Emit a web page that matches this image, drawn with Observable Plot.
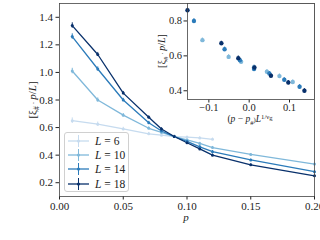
<!DOCTYPE html>
<html><head><meta charset="utf-8">
<script src="https://cdn.jsdelivr.net/npm/d3@7"></script>
<script src="https://cdn.jsdelivr.net/npm/@observablehq/plot@0.6"></script>
<style>
html,body{margin:0;padding:0;background:#fff;}
#wrap{position:relative;width:320px;height:240px;font-family:"Liberation Serif","DejaVu Serif",serif;}
#wrap svg{position:absolute;overflow:visible;}
#wrap svg, #wrap svg text, #wrap svg tspan{font-family:"Liberation Serif","DejaVu Serif",serif !important;}
#legend{position:absolute;left:64px;top:132px;width:63px;height:58px;border:1px solid #d0d0d0;border-radius:3px;background:rgba(255,255,255,0.85);font-family:"Liberation Serif","DejaVu Serif",serif;font-size:11.5px;color:#222;}
.row{position:absolute;left:0;height:14px;width:63px;}
.row svg{position:absolute;left:2px;top:0;}
.row span{position:absolute;left:30px;top:0px;line-height:14px;}
</style></head>
<body><div id="wrap"></div>
<script>
// main plot data
const labels = ["L = 6", "L = 10", "L = 14", "L = 18"];
const colors = ["#c6dbef", "#7fb8da", "#2b7bba", "#08306b"];
const pAll = [0.01, 0.03, 0.05, 0.07, 0.08, 0.09, 0.10, 0.11, 0.12, 0.15, 0.20];
const pL6 = [0.01, 0.03, 0.05, 0.07, 0.08, 0.09, 0.10, 0.11, 0.12];
const yL6 = [0.65, 0.625, 0.59, 0.555, 0.545, 0.535, 0.53, 0.525, 0.515];
const yL10 = [1.01, 0.80, 0.69, 0.595, 0.565, 0.535, 0.51, 0.485, 0.455, 0.405, 0.335];
const yL14 = [1.26, 1.025, 0.80, 0.635, 0.575, 0.535, 0.50, 0.46, 0.425, 0.365, 0.28];
const yL18 = [1.34, 1.13, 0.85, 0.675, 0.59, 0.535, 0.49, 0.445, 0.40, 0.33, 0.25];
const errMain = [0.02, 0.015, 0.012, 0.01, 0.008, 0.008, 0.008, 0.008, 0.008, 0.006, 0.006];
// inset (collapse) data
const xIn10 = [-0.116, -0.051, -0.020, 0.012, 0.044, 0.075, 0.108];
const yIn10 = [0.69, 0.594, 0.566, 0.535, 0.509, 0.484, 0.45];
const xIn14 = [-0.137, -0.061, -0.023, 0.012, 0.050, 0.087, 0.125];
const yIn14 = [0.80, 0.638, 0.575, 0.525, 0.499, 0.463, 0.423];
const xIn18 = [-0.153, -0.069, -0.027, 0.013, 0.054, 0.097, 0.137];
const yIn18 = [0.861, 0.672, 0.587, 0.533, 0.486, 0.447, 0.40];
const errIn = 0.012;

const series = [
  {L: labels[0], c: colors[0], x: pL6, y: yL6},
  {L: labels[1], c: colors[1], x: pAll, y: yL10},
  {L: labels[2], c: colors[2], x: pAll, y: yL14},
  {L: labels[3], c: colors[3], x: pAll, y: yL18}
];
const main = series.flatMap((s, k) => s.x.map((x, i) => ({k, L: s.L, x, y: s.y[i], e: errMain[i]})));
const inset = [
  {k: 1, x: xIn10, y: yIn10}, {k: 2, x: xIn14, y: yIn14}, {k: 3, x: xIn18, y: yIn18}
].flatMap(s => s.x.map((x, i) => ({k: s.k, x, y: s.y[i]})));

const colorScale = {type: "ordinal", domain: [0, 1, 2, 3], range: colors};
const fmtMinus = d => (d < 0 ? "\u2212" : "") + Math.abs(d).toFixed(1);
const FONT = '"Liberation Serif", "DejaVu Serif", serif';

const wrap = document.getElementById("wrap");
const mainPlot = Plot.plot({
  width: 320, height: 240,
  marginLeft: 59, marginRight: 6, marginTop: 3, marginBottom: 44,
  style: {fontFamily: FONT, fontSize: "11px", color: "#222", background: "transparent"},
  x: {domain: [0, 0.2], ticks: [0, 0.05, 0.1, 0.15, 0.2], tickFormat: d => d.toFixed(2), tickSize: 3.5, tickPadding: 2, label: null},
  y: {domain: [0.1, 1.5], ticks: [0.2, 0.4, 0.6, 0.8, 1.0, 1.2, 1.4], tickFormat: d => d.toFixed(1), tickSize: 3.5, tickPadding: 3, label: null},
  color: colorScale,
  marks: [
    Plot.line(main, {x: "x", y: "y", z: "k", stroke: "k", strokeWidth: 1.3}),
    Plot.ruleX(main, {x: "x", y1: d => d.y - d.e, y2: d => d.y + d.e, stroke: "k", strokeWidth: 1}),
    Plot.dot(main, {x: "x", y: "y", fill: "k", r: 1.5}),
    Plot.frame({stroke: "#444", strokeWidth: 0.8})
  ]
});
mainPlot.style.left = "0px"; mainPlot.style.top = "0px";
wrap.appendChild(mainPlot);

const insetPlot = Plot.plot({
  width: 160, height: 125,
  marginLeft: 27, marginRight: 6, marginTop: 3, marginBottom: 26,
  style: {fontFamily: FONT, fontSize: "10.5px", color: "#222", background: "transparent"},
  x: {domain: [-0.153, 0.162], ticks: [-0.1, 0, 0.1], tickFormat: fmtMinus, tickSize: 3.5, tickPadding: 1, label: null},
  y: {domain: [0.35, 0.9], ticks: [0.4, 0.6, 0.8], tickFormat: d => d.toFixed(1), tickSize: 3.5, tickPadding: 2, label: null},
  color: colorScale,
  marks: [
    Plot.frame({fill: "white"}),
    Plot.ruleX(inset, {x: "x", y1: d => d.y - errIn, y2: d => d.y + errIn, stroke: "k", strokeWidth: 1.2}),
    Plot.dot(inset, {x: "x", y: "y", fill: "k", r: 2.2}),
    Plot.frame({stroke: "#444", strokeWidth: 0.8})
  ]
});
insetPlot.style.left = "160px"; insetPlot.style.top = "0px";
wrap.appendChild(insetPlot);

// axis labels with sub/superscripts
function addText(svg, x, y, rot, parts, size) {
  const t = d3.select(svg).append("text")
    .attr("transform", `translate(${x},${y}) rotate(${rot})`)
    .attr("text-anchor", "middle").attr("font-size", size).attr("fill", "#222")
    .style("font-family", FONT);
  parts.forEach(p => {
    const ts = t.append("tspan").text(p.t);
    if (p.i) ts.attr("font-style", "italic");
    if (p.s) ts.attr("font-size", size * 0.7).attr("dy", p.s);
  });
}
addText(mainPlot, 36, 100, -90, [
  {t: "[ξ"}, {t: "#", s: 2.5}, {t: " · ", s: -2.5}, {t: "p", i: 1}, {t: "/"}, {t: "L", i: 1}, {t: "]"}
], 11);
addText(mainPlot, 186, 221, 0, [{t: "p", i: 1}], 11);
addText(insetPlot, 5, 51, -90, [
  {t: "[ξ"}, {t: "#", s: 2.5}, {t: " · ", s: -2.5}, {t: "p", i: 1}, {t: "/"}, {t: "L", i: 1}, {t: "]"}
], 10);
addText(insetPlot, 90, 122, 0, [
  {t: "("}, {t: "p", i: 1}, {t: " − "}, {t: "p", i: 1}, {t: "#", s: 2.5}, {t: ")", s: -2.5}, {t: "L", i: 1},
  {t: "1/ν", s: -3.5}, {t: "g", s: 1.5}
], 9.5);

// legend
const leg = document.createElement("div");
leg.id = "legend";
labels.forEach((lab, k) => {
  const row = document.createElement("div");
  row.className = "row";
  row.style.top = (1 + k * 14.2) + "px";
  row.innerHTML = `<svg width="26" height="14"><line x1="1" x2="22" y1="7" y2="7" stroke="${colors[k]}" stroke-width="1.3"/>` +
    `<line x1="11.5" x2="11.5" y1="1" y2="13" stroke="${colors[k]}" stroke-width="1"/>` +
    `<circle cx="11.5" cy="7" r="1.6" fill="${colors[k]}"/></svg>` +
    `<span><i>L</i> = ${lab.split("= ")[1]}</span>`;
  leg.appendChild(row);
});
wrap.appendChild(leg);
</script></body></html>
